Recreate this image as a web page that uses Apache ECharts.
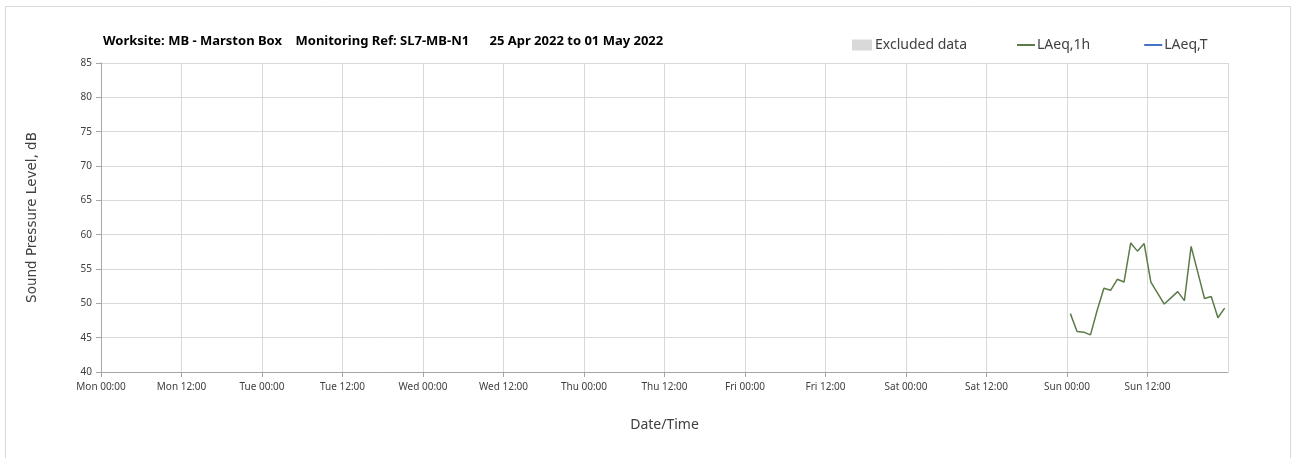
<!DOCTYPE html>
<html>
<head>
<meta charset="utf-8">
<script src="https://cdn.jsdelivr.net/npm/echarts@6/dist/echarts.min.js"></script>
<style>
  html, body { margin: 0; padding: 0; background: #fff; }
  #chart { width: 1295px; height: 458px; }
</style>
</head>
<body>
<div id="chart"></div>
<script>
  // hourly LAeq,1h readings, Sun 01 May 2022 (plotted at mid-hour)
  let times = [
    '2022-05-01T00:30', '2022-05-01T01:30', '2022-05-01T02:30', '2022-05-01T03:30',
    '2022-05-01T04:30', '2022-05-01T05:30', '2022-05-01T06:30', '2022-05-01T07:30',
    '2022-05-01T08:30', '2022-05-01T09:30', '2022-05-01T10:30', '2022-05-01T11:30',
    '2022-05-01T12:30', '2022-05-01T13:30', '2022-05-01T14:30', '2022-05-01T15:30',
    '2022-05-01T16:30', '2022-05-01T17:30', '2022-05-01T18:30', '2022-05-01T19:30',
    '2022-05-01T20:30', '2022-05-01T21:30', '2022-05-01T22:30', '2022-05-01T23:30'
  ]
  let laeq1h = [
    48.5, 45.9, 45.8, 45.4, 49.0, 52.2, 51.9, 53.5,
    53.1, 58.8, 57.6, 58.7, 53.1, 51.5, 49.9, 50.8,
    51.7, 50.4, 58.3, 54.5, 50.7, 51.0, 47.9, 49.3
  ]
  let laeqT = []
  let excluded = []
  let dayNames = ['Mon', 'Tue', 'Wed', 'Thu', 'Fri', 'Sat', 'Sun']
  let weekStart = '2022-04-25T00:00'

  function hoursFrom (start, t) {
    let toMs = function (s) {
      let p = s.split(/[-T:]/).map(Number)
      return Date.UTC(p[0], p[1] - 1, p[2], p[3], p[4])
    }
    return (toMs(t) - toMs(start)) / 3600000
  }

  let lineData = times.map(function (t, i) {
    return [hoursFrom(weekStart, t), laeq1h[i]]
  })

  let chart = echarts.init(document.getElementById('chart'))
  let axisGrey = '#a6a6a6'
  let options = {
    animation: false,
    textStyle: { fontFamily: 'Noto Sans' },
    graphic: [
      {
        type: 'rect',
        shape: { x: 5.5, y: 6.5, width: 1285, height: 480 },
        style: { fill: 'none', stroke: '#d9d9d9', lineWidth: 1 },
        silent: true
      }
    ],
    title: {
      text: 'Worksite: MB - Marston Box    Monitoring Ref: SL7-MB-N1      25 Apr 2022 to 01 May 2022',
      left: 98,
      top: 30,
      textStyle: { fontSize: 13, fontWeight: 'bold', color: '#000', fontFamily: 'Liberation Sans Narrow, Noto Sans' }
    },
    legend: [
      {
        left: 847,
        top: 33,
        itemWidth: 20,
        itemHeight: 11,
        itemGap: 5,
        icon: 'rect',
        data: ['Excluded data'],
        textStyle: { fontSize: 14, color: '#404040', padding: [0, 0, 0, -2], fontFamily: 'Liberation Sans Narrow, Noto Sans' }
      },
      {
        left: 1012,
        top: 33,
        itemWidth: 18,
        itemHeight: 2,
        itemGap: 54,
        icon: 'rect',
        data: ['LAeq,1h', 'LAeq,T'],
        textStyle: { fontSize: 14, color: '#404040', padding: [0, 0, 0, -3], fontFamily: 'Liberation Sans Narrow, Noto Sans' }
      }
    ],
    grid: { left: 101, right: 67, top: 63, bottom: 86 },
    xAxis: {
      type: 'value',
      min: 0,
      max: 168,
      interval: 12,
      name: 'Date/Time',
      nameLocation: 'middle',
      nameGap: 46,
      nameTextStyle: { fontSize: 14, color: '#404040', fontFamily: 'Liberation Sans Narrow, Noto Sans' },
      axisLine: { lineStyle: { color: axisGrey } },
      axisTick: { show: true, length: 5, lineStyle: { color: axisGrey } },
      splitLine: { show: true, lineStyle: { color: '#d9d9d9' } },
      axisLabel: {
        fontSize: 10,
        color: '#404040',
        margin: 10,
        showMaxLabel: false,
        formatter: function (h) {
          let d = Math.floor(h / 24)
          if (d > 6) return ''
          return dayNames[d] + (h % 24 === 0 ? ' 00:00' : ' 12:00')
        }
      }
    },
    yAxis: {
      type: 'value',
      min: 40,
      max: 85,
      interval: 5,
      name: 'Sound Pressure Level, dB',
      nameLocation: 'middle',
      nameRotate: 90,
      nameGap: 62,
      nameTextStyle: { fontSize: 13.5, color: '#404040', fontFamily: 'DejaVu Sans' },
      axisLine: { show: true, lineStyle: { color: axisGrey } },
      axisTick: { show: true, length: 5, lineStyle: { color: axisGrey } },
      splitLine: { show: true, lineStyle: { color: '#d9d9d9' } },
      axisLabel: { fontSize: 10, color: '#404040', margin: 9 }
    },
    series: [
      {
        name: 'Excluded data',
        type: 'bar',
        data: excluded,
        itemStyle: { color: '#d9d9d9' }
      },
      {
        name: 'LAeq,1h',
        type: 'line',
        data: lineData,
        showSymbol: false,
        symbol: 'none',
        lineStyle: { color: '#5b7b48', width: 1.5 },
        itemStyle: { color: '#5b7b48' }
      },
      {
        name: 'LAeq,T',
        type: 'line',
        data: laeqT,
        symbol: 'none',
        lineStyle: { color: '#4472c4', width: 1.5 },
        itemStyle: { color: '#4472c4' }
      }
    ]
  }
  chart.setOption(options)
</script>
</body>
</html>
